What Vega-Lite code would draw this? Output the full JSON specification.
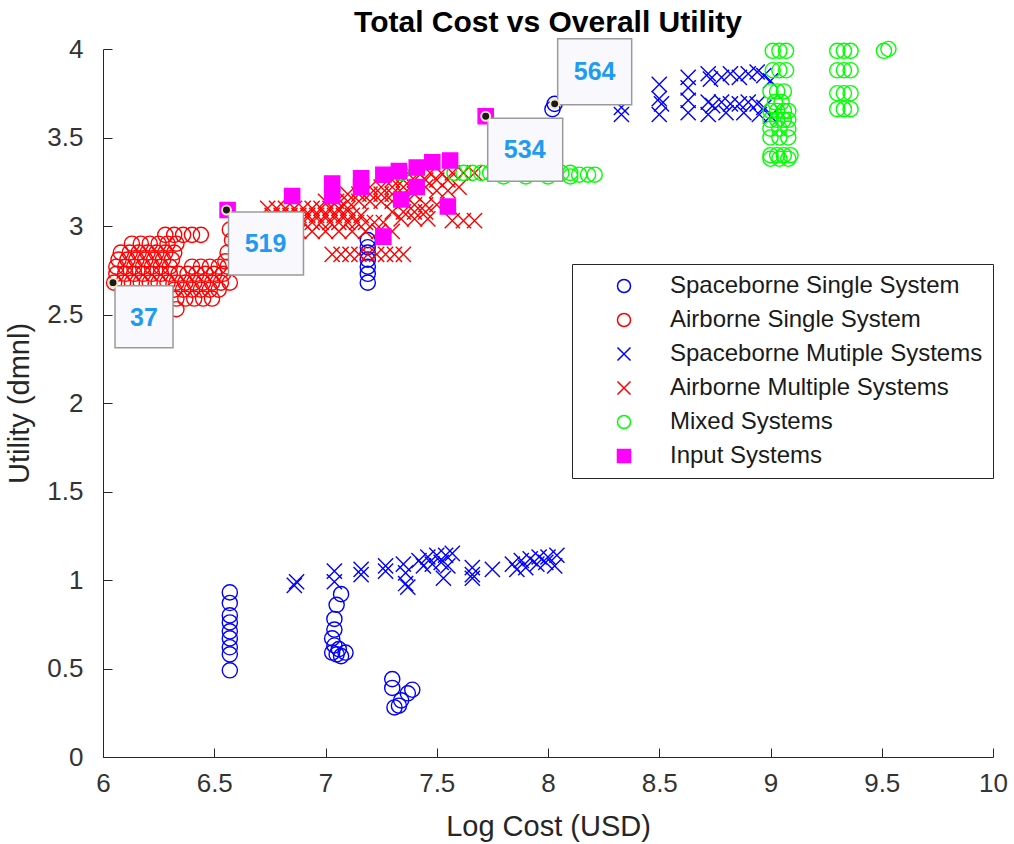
{
  "$schema": "https://vega.github.io/schema/vega-lite/v6.json",
  "width": 890,
  "height": 708,
  "autosize": {"type": "none"},
  "padding": {"left": 103, "top": 49, "right": 21, "bottom": 87},
  "background": "white",
  "title": {"text": "Total Cost vs Overall Utility", "font": "Liberation Sans", "fontSize": 30, "fontWeight": "bold", "color": "#000000", "offset": -2},
  "config": {
    "view": {"stroke": null},
    "axis": {
      "grid": false, "domainColor": "#262626", "tickColor": "#262626", "tickSize": -9, "domainWidth": 1, "tickWidth": 1, "labelFlush": false,
      "labelFont": "Liberation Sans", "labelFontSize": 26, "labelColor": "#333333",
      "titleFont": "Liberation Sans", "titleFontSize": 29, "titleFontWeight": "normal", "titleColor": "#262626"
    }
  },
  "datasets": {
    "pts": [
      {"x":6.57,"y":0.93,"s":"SS"},{"x":6.57,"y":0.87,"s":"SS"},{"x":6.57,"y":0.80,"s":"SS"},{"x":6.57,"y":0.76,"s":"SS"},{"x":6.57,"y":0.71,"s":"SS"},{"x":6.57,"y":0.67,"s":"SS"},{"x":6.57,"y":0.62,"s":"SS"},{"x":6.57,"y":0.58,"s":"SS"},{"x":6.57,"y":0.49,"s":"SS"},
      {"x":7.07,"y":0.92,"s":"SS"},{"x":7.05,"y":0.86,"s":"SS"},{"x":7.04,"y":0.78,"s":"SS"},{"x":7.04,"y":0.72,"s":"SS"},{"x":7.03,"y":0.67,"s":"SS"},{"x":7.04,"y":0.63,"s":"SS"},{"x":7.03,"y":0.59,"s":"SS"},{"x":7.05,"y":0.58,"s":"SS"},{"x":7.07,"y":0.57,"s":"SS"},{"x":7.09,"y":0.59,"s":"SS"},{"x":7.06,"y":0.61,"s":"SS"},
      {"x":7.30,"y":0.44,"s":"SS"},{"x":7.30,"y":0.39,"s":"SS"},{"x":7.39,"y":0.38,"s":"SS"},{"x":7.37,"y":0.36,"s":"SS"},{"x":7.34,"y":0.32,"s":"SS"},{"x":7.31,"y":0.28,"s":"SS"},{"x":7.33,"y":0.29,"s":"SS"},
      {"x":7.19,"y":2.92,"s":"SS"},{"x":7.19,"y":2.88,"s":"SS"},{"x":7.19,"y":2.85,"s":"SS"},{"x":7.19,"y":2.81,"s":"SS"},{"x":7.19,"y":2.77,"s":"SS"},{"x":7.19,"y":2.73,"s":"SS"},{"x":7.19,"y":2.68,"s":"SS"},
      {"x":8.02,"y":3.66,"s":"SS"},{"x":8.03,"y":3.69,"s":"SS"},

      {"x":6.28,"y":2.95,"s":"AS"},{"x":6.32,"y":2.95,"s":"AS"},{"x":6.36,"y":2.95,"s":"AS"},{"x":6.40,"y":2.95,"s":"AS"},{"x":6.44,"y":2.95,"s":"AS"},
      {"x":6.13,"y":2.90,"s":"AS"},{"x":6.17,"y":2.90,"s":"AS"},{"x":6.21,"y":2.90,"s":"AS"},{"x":6.25,"y":2.90,"s":"AS"},{"x":6.29,"y":2.90,"s":"AS"},{"x":6.33,"y":2.90,"s":"AS"},
      {"x":6.08,"y":2.85,"s":"AS"},{"x":6.12,"y":2.85,"s":"AS"},{"x":6.16,"y":2.85,"s":"AS"},{"x":6.20,"y":2.85,"s":"AS"},{"x":6.24,"y":2.85,"s":"AS"},{"x":6.28,"y":2.85,"s":"AS"},{"x":6.32,"y":2.85,"s":"AS"},
      {"x":6.07,"y":2.81,"s":"AS"},{"x":6.11,"y":2.81,"s":"AS"},{"x":6.15,"y":2.81,"s":"AS"},{"x":6.19,"y":2.81,"s":"AS"},{"x":6.23,"y":2.81,"s":"AS"},{"x":6.27,"y":2.81,"s":"AS"},{"x":6.31,"y":2.81,"s":"AS"},
      {"x":6.06,"y":2.77,"s":"AS"},{"x":6.10,"y":2.77,"s":"AS"},{"x":6.14,"y":2.77,"s":"AS"},{"x":6.18,"y":2.77,"s":"AS"},{"x":6.22,"y":2.77,"s":"AS"},{"x":6.26,"y":2.77,"s":"AS"},{"x":6.30,"y":2.77,"s":"AS"},{"x":6.40,"y":2.77,"s":"AS"},{"x":6.44,"y":2.77,"s":"AS"},{"x":6.48,"y":2.77,"s":"AS"},{"x":6.52,"y":2.77,"s":"AS"},{"x":6.56,"y":2.77,"s":"AS"},
      {"x":6.06,"y":2.73,"s":"AS"},{"x":6.10,"y":2.73,"s":"AS"},{"x":6.14,"y":2.73,"s":"AS"},{"x":6.18,"y":2.73,"s":"AS"},{"x":6.22,"y":2.73,"s":"AS"},{"x":6.26,"y":2.73,"s":"AS"},{"x":6.30,"y":2.73,"s":"AS"},{"x":6.34,"y":2.73,"s":"AS"},{"x":6.38,"y":2.73,"s":"AS"},{"x":6.42,"y":2.73,"s":"AS"},{"x":6.46,"y":2.73,"s":"AS"},{"x":6.50,"y":2.73,"s":"AS"},{"x":6.54,"y":2.73,"s":"AS"},
      {"x":6.05,"y":2.68,"s":"AS"},{"x":6.09,"y":2.68,"s":"AS"},{"x":6.13,"y":2.68,"s":"AS"},{"x":6.17,"y":2.68,"s":"AS"},{"x":6.21,"y":2.68,"s":"AS"},{"x":6.25,"y":2.68,"s":"AS"},{"x":6.29,"y":2.68,"s":"AS"},{"x":6.33,"y":2.68,"s":"AS"},{"x":6.37,"y":2.68,"s":"AS"},{"x":6.41,"y":2.68,"s":"AS"},{"x":6.45,"y":2.68,"s":"AS"},{"x":6.49,"y":2.68,"s":"AS"},{"x":6.53,"y":2.68,"s":"AS"},{"x":6.57,"y":2.68,"s":"AS"},
      {"x":6.32,"y":2.64,"s":"AS"},{"x":6.36,"y":2.64,"s":"AS"},{"x":6.40,"y":2.64,"s":"AS"},{"x":6.44,"y":2.64,"s":"AS"},{"x":6.48,"y":2.64,"s":"AS"},{"x":6.52,"y":2.64,"s":"AS"},
      {"x":6.33,"y":2.59,"s":"AS"},{"x":6.37,"y":2.59,"s":"AS"},{"x":6.41,"y":2.59,"s":"AS"},{"x":6.45,"y":2.59,"s":"AS"},{"x":6.49,"y":2.59,"s":"AS"},{"x":6.33,"y":2.53,"s":"AS"},
      {"x":6.57,"y":2.98,"s":"AS"},{"x":6.58,"y":2.92,"s":"AS"},{"x":6.56,"y":2.85,"s":"AS"},{"x":6.55,"y":2.80,"s":"AS"},

      {"x":6.87,"y":0.99,"s":"SM"},{"x":6.86,"y":0.97,"s":"SM"},{"x":7.04,"y":1.05,"s":"SM"},{"x":7.04,"y":0.99,"s":"SM"},{"x":7.16,"y":1.06,"s":"SM"},{"x":7.16,"y":1.03,"s":"SM"},{"x":7.27,"y":1.08,"s":"SM"},{"x":7.27,"y":1.05,"s":"SM"},{"x":7.35,"y":1.09,"s":"SM"},{"x":7.36,"y":1.04,"s":"SM"},{"x":7.36,"y":0.98,"s":"SM"},{"x":7.37,"y":0.96,"s":"SM"},
      {"x":7.42,"y":1.11,"s":"SM"},{"x":7.46,"y":1.13,"s":"SM"},{"x":7.50,"y":1.14,"s":"SM"},{"x":7.54,"y":1.14,"s":"SM"},{"x":7.57,"y":1.15,"s":"SM"},{"x":7.44,"y":1.08,"s":"SM"},{"x":7.48,"y":1.09,"s":"SM"},{"x":7.52,"y":1.10,"s":"SM"},{"x":7.55,"y":1.08,"s":"SM"},{"x":7.53,"y":1.01,"s":"SM"},
      {"x":7.66,"y":1.07,"s":"SM"},{"x":7.66,"y":1.03,"s":"SM"},{"x":7.66,"y":1.01,"s":"SM"},{"x":7.75,"y":1.06,"s":"SM"},{"x":7.84,"y":1.09,"s":"SM"},{"x":7.88,"y":1.11,"s":"SM"},{"x":7.92,"y":1.12,"s":"SM"},{"x":7.96,"y":1.13,"s":"SM"},{"x":8.00,"y":1.13,"s":"SM"},{"x":8.04,"y":1.14,"s":"SM"},{"x":7.86,"y":1.06,"s":"SM"},{"x":7.90,"y":1.07,"s":"SM"},{"x":7.95,"y":1.09,"s":"SM"},{"x":7.99,"y":1.10,"s":"SM"},{"x":8.03,"y":1.08,"s":"SM"},
      {"x":8.33,"y":3.67,"s":"SM"},{"x":8.33,"y":3.63,"s":"SM"},{"x":8.50,"y":3.80,"s":"SM"},{"x":8.50,"y":3.72,"s":"SM"},{"x":8.51,"y":3.69,"s":"SM"},{"x":8.50,"y":3.63,"s":"SM"},{"x":8.63,"y":3.84,"s":"SM"},{"x":8.63,"y":3.78,"s":"SM"},{"x":8.63,"y":3.71,"s":"SM"},{"x":8.63,"y":3.64,"s":"SM"},
      {"x":8.72,"y":3.86,"s":"SM"},{"x":8.73,"y":3.83,"s":"SM"},{"x":8.72,"y":3.70,"s":"SM"},{"x":8.74,"y":3.68,"s":"SM"},{"x":8.72,"y":3.63,"s":"SM"},{"x":8.78,"y":3.84,"s":"SM"},{"x":8.82,"y":3.86,"s":"SM"},{"x":8.86,"y":3.84,"s":"SM"},{"x":8.90,"y":3.86,"s":"SM"},{"x":8.94,"y":3.87,"s":"SM"},{"x":8.97,"y":3.85,"s":"SM"},
      {"x":8.78,"y":3.70,"s":"SM"},{"x":8.82,"y":3.69,"s":"SM"},{"x":8.86,"y":3.69,"s":"SM"},{"x":8.90,"y":3.70,"s":"SM"},{"x":8.94,"y":3.69,"s":"SM"},{"x":8.97,"y":3.67,"s":"SM"},{"x":8.80,"y":3.64,"s":"SM"},{"x":8.88,"y":3.64,"s":"SM"},{"x":8.95,"y":3.63,"s":"SM"},{"x":9.00,"y":3.62,"s":"SM"},{"x":9.00,"y":3.82,"s":"SM"},

      {"x":6.74,"y":3.10,"s":"AM"},{"x":6.78,"y":3.10,"s":"AM"},{"x":6.82,"y":3.10,"s":"AM"},{"x":6.86,"y":3.10,"s":"AM"},{"x":6.90,"y":3.10,"s":"AM"},{"x":6.94,"y":3.10,"s":"AM"},{"x":6.98,"y":3.10,"s":"AM"},{"x":7.02,"y":3.10,"s":"AM"},{"x":7.06,"y":3.10,"s":"AM"},{"x":7.10,"y":3.10,"s":"AM"},
      {"x":6.76,"y":3.06,"s":"AM"},{"x":6.80,"y":3.06,"s":"AM"},{"x":6.84,"y":3.06,"s":"AM"},{"x":6.88,"y":3.06,"s":"AM"},{"x":6.92,"y":3.06,"s":"AM"},{"x":6.96,"y":3.06,"s":"AM"},{"x":7.00,"y":3.06,"s":"AM"},{"x":7.04,"y":3.06,"s":"AM"},{"x":7.08,"y":3.06,"s":"AM"},{"x":7.12,"y":3.06,"s":"AM"},{"x":7.16,"y":3.06,"s":"AM"},
      {"x":6.82,"y":3.02,"s":"AM"},{"x":6.86,"y":3.02,"s":"AM"},{"x":6.90,"y":3.02,"s":"AM"},{"x":6.94,"y":3.02,"s":"AM"},{"x":6.98,"y":3.02,"s":"AM"},{"x":7.02,"y":3.02,"s":"AM"},{"x":7.06,"y":3.02,"s":"AM"},{"x":7.10,"y":3.02,"s":"AM"},{"x":7.14,"y":3.02,"s":"AM"},{"x":7.18,"y":3.02,"s":"AM"},{"x":7.22,"y":3.02,"s":"AM"},{"x":7.26,"y":3.02,"s":"AM"},
      {"x":6.88,"y":2.97,"s":"AM"},{"x":6.94,"y":2.97,"s":"AM"},{"x":7.00,"y":2.97,"s":"AM"},{"x":7.06,"y":2.97,"s":"AM"},{"x":7.12,"y":2.97,"s":"AM"},{"x":7.18,"y":2.97,"s":"AM"},{"x":7.24,"y":2.97,"s":"AM"},{"x":7.30,"y":2.97,"s":"AM"},
      {"x":7.00,"y":3.14,"s":"AM"},{"x":7.05,"y":3.14,"s":"AM"},{"x":7.10,"y":3.14,"s":"AM"},{"x":7.15,"y":3.14,"s":"AM"},{"x":7.20,"y":3.14,"s":"AM"},{"x":7.25,"y":3.14,"s":"AM"},{"x":7.30,"y":3.14,"s":"AM"},{"x":7.35,"y":3.14,"s":"AM"},
      {"x":7.10,"y":3.18,"s":"AM"},{"x":7.15,"y":3.18,"s":"AM"},{"x":7.20,"y":3.18,"s":"AM"},{"x":7.25,"y":3.18,"s":"AM"},{"x":7.30,"y":3.18,"s":"AM"},{"x":7.35,"y":3.18,"s":"AM"},{"x":7.40,"y":3.18,"s":"AM"},
      {"x":7.20,"y":3.22,"s":"AM"},{"x":7.25,"y":3.22,"s":"AM"},{"x":7.30,"y":3.22,"s":"AM"},{"x":7.35,"y":3.22,"s":"AM"},{"x":7.40,"y":3.22,"s":"AM"},{"x":7.45,"y":3.22,"s":"AM"},
      {"x":7.30,"y":3.26,"s":"AM"},{"x":7.35,"y":3.26,"s":"AM"},{"x":7.40,"y":3.26,"s":"AM"},{"x":7.45,"y":3.26,"s":"AM"},{"x":7.50,"y":3.26,"s":"AM"},{"x":7.55,"y":3.26,"s":"AM"},
      {"x":7.42,"y":3.30,"s":"AM"},{"x":7.47,"y":3.30,"s":"AM"},{"x":7.52,"y":3.30,"s":"AM"},{"x":7.57,"y":3.30,"s":"AM"},{"x":7.62,"y":3.30,"s":"AM"},{"x":7.67,"y":3.30,"s":"AM"},
      {"x":7.30,"y":3.08,"s":"AM"},{"x":7.35,"y":3.08,"s":"AM"},{"x":7.40,"y":3.08,"s":"AM"},{"x":7.45,"y":3.08,"s":"AM"},{"x":7.34,"y":3.04,"s":"AM"},{"x":7.40,"y":3.04,"s":"AM"},{"x":7.46,"y":3.04,"s":"AM"},
      {"x":7.57,"y":3.03,"s":"AM"},{"x":7.62,"y":3.03,"s":"AM"},{"x":7.67,"y":3.03,"s":"AM"},{"x":7.40,"y":3.12,"s":"AM"},{"x":7.45,"y":3.12,"s":"AM"},{"x":7.50,"y":3.12,"s":"AM"},{"x":7.50,"y":3.20,"s":"AM"},{"x":7.55,"y":3.20,"s":"AM"},{"x":7.60,"y":3.22,"s":"AM"},
      {"x":7.03,"y":2.84,"s":"AM"},{"x":7.07,"y":2.84,"s":"AM"},{"x":7.11,"y":2.84,"s":"AM"},{"x":7.15,"y":2.84,"s":"AM"},{"x":7.19,"y":2.84,"s":"AM"},{"x":7.23,"y":2.84,"s":"AM"},{"x":7.27,"y":2.84,"s":"AM"},{"x":7.31,"y":2.84,"s":"AM"},{"x":7.35,"y":2.84,"s":"AM"},
      {"x":6.78,"y":2.93,"s":"AM"},{"x":6.84,"y":2.95,"s":"AM"},

      {"x":7.34,"y":3.30,"s":"MX"},
      {"x":7.58,"y":3.30,"s":"MX"},{"x":7.62,"y":3.30,"s":"MX"},{"x":7.66,"y":3.30,"s":"MX"},{"x":7.70,"y":3.30,"s":"MX"},{"x":7.74,"y":3.30,"s":"MX"},{"x":7.78,"y":3.30,"s":"MX"},{"x":7.82,"y":3.30,"s":"MX"},{"x":7.86,"y":3.30,"s":"MX"},{"x":7.90,"y":3.30,"s":"MX"},{"x":7.94,"y":3.30,"s":"MX"},{"x":7.98,"y":3.30,"s":"MX"},{"x":8.02,"y":3.30,"s":"MX"},{"x":8.06,"y":3.30,"s":"MX"},{"x":8.10,"y":3.30,"s":"MX"},{"x":8.14,"y":3.29,"s":"MX"},{"x":8.18,"y":3.29,"s":"MX"},{"x":8.21,"y":3.29,"s":"MX"},
      {"x":7.80,"y":3.28,"s":"MX"},{"x":7.90,"y":3.28,"s":"MX"},{"x":8.00,"y":3.28,"s":"MX"},{"x":8.10,"y":3.28,"s":"MX"},
      {"x":9.01,"y":3.99,"s":"MX"},{"x":9.04,"y":3.99,"s":"MX"},{"x":9.07,"y":3.99,"s":"MX"},{"x":9.01,"y":3.88,"s":"MX"},{"x":9.04,"y":3.88,"s":"MX"},{"x":9.07,"y":3.88,"s":"MX"},
      {"x":9.00,"y":3.76,"s":"MX"},{"x":9.03,"y":3.76,"s":"MX"},{"x":9.06,"y":3.76,"s":"MX"},{"x":9.02,"y":3.70,"s":"MX"},{"x":9.05,"y":3.70,"s":"MX"},
      {"x":9.00,"y":3.65,"s":"MX"},{"x":9.03,"y":3.65,"s":"MX"},{"x":9.06,"y":3.65,"s":"MX"},{"x":9.08,"y":3.65,"s":"MX"},{"x":9.00,"y":3.60,"s":"MX"},{"x":9.03,"y":3.60,"s":"MX"},{"x":9.06,"y":3.60,"s":"MX"},{"x":9.08,"y":3.60,"s":"MX"},
      {"x":9.00,"y":3.55,"s":"MX"},{"x":9.04,"y":3.55,"s":"MX"},{"x":9.08,"y":3.55,"s":"MX"},{"x":9.00,"y":3.50,"s":"MX"},{"x":9.04,"y":3.50,"s":"MX"},{"x":9.08,"y":3.50,"s":"MX"},
      {"x":9.00,"y":3.40,"s":"MX"},{"x":9.03,"y":3.40,"s":"MX"},{"x":9.06,"y":3.40,"s":"MX"},{"x":9.09,"y":3.40,"s":"MX"},{"x":9.00,"y":3.38,"s":"MX"},{"x":9.04,"y":3.38,"s":"MX"},{"x":9.08,"y":3.38,"s":"MX"},
      {"x":9.30,"y":3.99,"s":"MX"},{"x":9.33,"y":3.99,"s":"MX"},{"x":9.36,"y":3.99,"s":"MX"},{"x":9.30,"y":3.88,"s":"MX"},{"x":9.33,"y":3.88,"s":"MX"},{"x":9.36,"y":3.88,"s":"MX"},
      {"x":9.30,"y":3.75,"s":"MX"},{"x":9.33,"y":3.75,"s":"MX"},{"x":9.36,"y":3.75,"s":"MX"},{"x":9.30,"y":3.66,"s":"MX"},{"x":9.33,"y":3.66,"s":"MX"},{"x":9.36,"y":3.66,"s":"MX"},
      {"x":9.51,"y":3.99,"s":"MX"},{"x":9.53,"y":4.00,"s":"MX"},

      {"x":6.56,"y":3.09,"s":"IN"},{"x":6.85,"y":3.17,"s":"IN"},{"x":7.03,"y":3.24,"s":"IN"},{"x":7.03,"y":3.17,"s":"IN"},{"x":7.16,"y":3.27,"s":"IN"},{"x":7.16,"y":3.22,"s":"IN"},{"x":7.26,"y":3.29,"s":"IN"},{"x":7.33,"y":3.31,"s":"IN"},{"x":7.34,"y":3.15,"s":"IN"},{"x":7.41,"y":3.33,"s":"IN"},{"x":7.41,"y":3.22,"s":"IN"},{"x":7.48,"y":3.36,"s":"IN"},{"x":7.56,"y":3.37,"s":"IN"},{"x":7.55,"y":3.11,"s":"IN"},{"x":7.26,"y":2.94,"s":"IN"},{"x":7.72,"y":3.62,"s":"IN"}
    ],
    "tips": [
      {"x":6.045,"y":2.68,"label":"37"},
      {"x":6.555,"y":3.09,"label":"519"},
      {"x":7.72,"y":3.62,"label":"534"},
      {"x":8.03,"y":3.69,"label":"564"}
    ]
  },
  "encoding": {
    "x": {"field": "x", "type": "quantitative", "scale": {"domain": [6, 10], "nice": false, "zero": false},
      "axis": {"values": [6, 6.5, 7, 7.5, 8, 8.5, 9, 9.5, 10], "format": "~g", "title": "Log Cost (USD)", "labelPadding": 22, "titlePadding": 16}},
    "y": {"field": "y", "type": "quantitative", "scale": {"domain": [0, 4], "nice": false, "zero": false},
      "axis": {"values": [0, 0.5, 1, 1.5, 2, 2.5, 3, 3.5, 4], "format": "~g", "title": "Utility (dmnl)", "labelPadding": 29, "titlePadding": 12}}
  },
  "layer": [
    {
      "data": {"name": "pts"},
      "mark": {"type": "point", "filled": true, "strokeWidth": 1.4, "opacity": 1, "size": 230},
      "encoding": {
        "stroke": {"field": "s", "type": "nominal",
          "scale": {"domain": ["SS", "AS", "SM", "AM", "MX", "IN"], "range": ["#0000ff", "#ff0000", "#0000ff", "#ff0000", "#00ff00", "#ff00ff"]},
          "legend": {
            "orient": "none", "legendX": 469, "legendY": 215, "title": null,
            "padding": 10, "strokeColor": "#262626", "fillColor": "#ffffff",
            "symbolSize": 170, "symbolStrokeWidth": 1.5, "symbolOffset": 30, "labelOffset": 34,
            "labelFont": "Liberation Sans", "labelFontSize": 24, "labelColor": "#1a1a1a", "labelLimit": 500, "rowPadding": 10,
            "labelExpr": "datum.label === 'SS' ? 'Spaceborne Single System' : datum.label === 'AS' ? 'Airborne Single System' : datum.label === 'SM' ? 'Spaceborne Mutiple Systems' : datum.label === 'AM' ? 'Airborne Multiple Systems' : datum.label === 'MX' ? 'Mixed Systems' : 'Input Systems'"
          }},
        "fill": {"field": "s", "type": "nominal",
          "scale": {"domain": ["SS", "AS", "SM", "AM", "MX", "IN"], "range": ["transparent", "transparent", "transparent", "transparent", "transparent", "#ff00ff"]}},
        "shape": {"field": "s", "type": "nominal",
          "scale": {"domain": ["SS", "AS", "SM", "AM", "MX", "IN"], "range": ["circle", "circle", "M-1,-1L1,1M-1,1L1,-1", "M-1,-1L1,1M-1,1L1,-1", "circle", "square"]}}
      }
    },
    {
      "data": {"name": "tips"},
      "transform": [{"filter": "datum.label === '519' || datum.label === '534'"}],
      "mark": {"type": "rect", "fill": "#f8f8fd", "stroke": "#9a9a9a", "strokeWidth": 1.5, "xOffset": 2, "x2Offset": 77, "yOffset": 2, "y2Offset": 65},
      "encoding": {"x2": {"field": "x"}, "y2": {"field": "y"}}
    },
    {
      "data": {"name": "tips"},
      "transform": [{"filter": "datum.label === '37'"}],
      "mark": {"type": "rect", "fill": "#f8f8fd", "stroke": "#9a9a9a", "strokeWidth": 1.5, "xOffset": 2, "x2Offset": 60, "yOffset": 3, "y2Offset": 65},
      "encoding": {"x2": {"field": "x"}, "y2": {"field": "y"}}
    },
    {
      "data": {"name": "tips"},
      "transform": [{"filter": "datum.label === '564'"}],
      "mark": {"type": "rect", "fill": "#f8f8fd", "stroke": "#9a9a9a", "strokeWidth": 1.5, "xOffset": 3, "x2Offset": 77, "yOffset": -65, "y2Offset": 1},
      "encoding": {"x2": {"field": "x"}, "y2": {"field": "y"}}
    },
    {
      "data": {"name": "tips"},
      "mark": {"type": "point", "shape": "circle", "filled": true, "fill": "#1a1a1a", "stroke": "#efe6c6", "strokeWidth": 2, "size": 80, "opacity": 1}
    },
    {
      "data": {"name": "tips"},
      "transform": [{"filter": "datum.label === '519' || datum.label === '534'"}],
      "mark": {"type": "text", "dx": 39, "dy": 34, "align": "center", "baseline": "middle", "font": "Liberation Sans", "fontSize": 25, "fontWeight": "bold", "color": "#219bf2"},
      "encoding": {"text": {"field": "label"}}
    },
    {
      "data": {"name": "tips"},
      "transform": [{"filter": "datum.label === '37'"}],
      "mark": {"type": "text", "dx": 31, "dy": 35, "align": "center", "baseline": "middle", "font": "Liberation Sans", "fontSize": 25, "fontWeight": "bold", "color": "#219bf2"},
      "encoding": {"text": {"field": "label"}}
    },
    {
      "data": {"name": "tips"},
      "transform": [{"filter": "datum.label === '564'"}],
      "mark": {"type": "text", "dx": 40, "dy": -32, "align": "center", "baseline": "middle", "font": "Liberation Sans", "fontSize": 25, "fontWeight": "bold", "color": "#219bf2"},
      "encoding": {"text": {"field": "label"}}
    }
  ]
}
